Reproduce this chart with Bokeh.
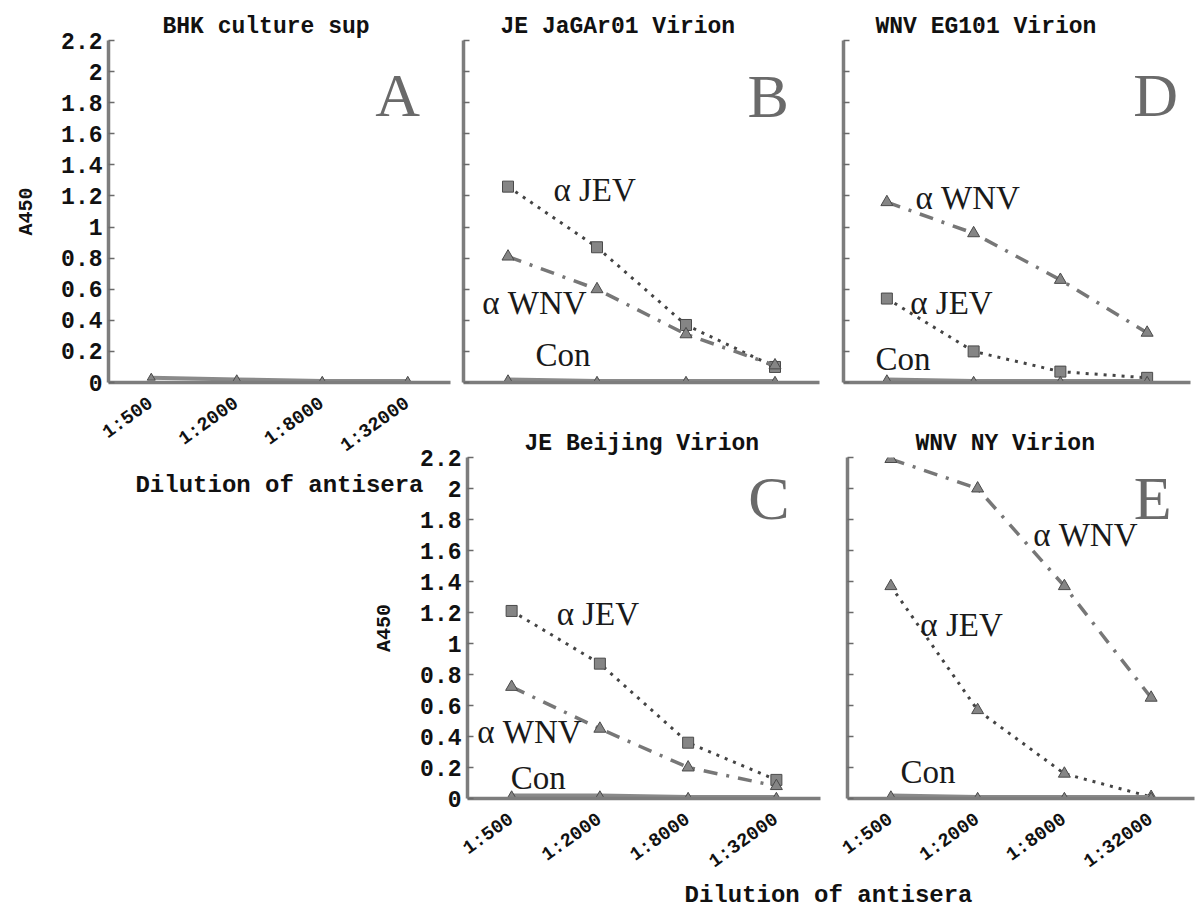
from bokeh.plotting import figure
from bokeh.layouts import column, row, Spacer
from bokeh.models import FactorRange, Range1d, FixedTicker, NumeralTickFormatter, Label
from bokeh.embed import file_html
from bokeh.resources import INLINE

# ---------------- data ----------------
dilutions = ["1:500", "1:2000", "1:8000", "1:32000"]
y_ticks = [0, 0.2, 0.4, 0.6, 0.8, 1.0, 1.2, 1.4, 1.6, 1.8, 2.0, 2.2]

# A: BHK culture sup
A_con = [0.03, 0.02, 0.01, 0.01]
# B: JE JaGAr01 Virion
B_jev = [1.26, 0.87, 0.37, 0.10]
B_wnv = [0.81, 0.60, 0.31, 0.11]
B_con = [0.02, 0.01, 0.01, 0.01]
# D: WNV EG101 Virion
D_wnv = [1.16, 0.96, 0.66, 0.32]
D_jev = [0.54, 0.20, 0.07, 0.03]
D_con = [0.02, 0.01, 0.01, 0.01]
# C: JE Beijing Virion
C_jev = [1.21, 0.87, 0.36, 0.12]
C_wnv = [0.72, 0.45, 0.20, 0.08]
C_con = [0.02, 0.02, 0.01, 0.01]
# E: WNV NY Virion
E_wnv = [2.19, 2.00, 1.37, 0.65]
E_jev = [1.37, 0.57, 0.16, 0.01]
E_con = [0.02, 0.01, 0.01, 0.01]

MONO = "Liberation Mono"
SERIF = "Liberation Serif"
AXIS_GRAY = "#7d7d7d"
LINE_GRAY = "#777777"
MARK_FILL = "#858585"
MARK_LINE = "#4a4a4a"


def panel(w, h, ml, mr, mt, mb, title, toff, ylabels, xlabels,
          xlabel=None, ylab_standoff=20):
    p = figure(width=w, height=h,
               x_range=FactorRange(factors=dilutions), y_range=Range1d(0, 2.2),
               output_backend="svg", toolbar_location=None,
               min_border_left=ml, min_border_right=mr,
               min_border_top=mt, min_border_bottom=mb)
    p.title.text = title
    p.title.align = "left"
    p.title.offset = toff
    p.title.standoff = 2
    p.title.text_font = MONO
    p.title.text_font_size = "23px"
    p.title.text_font_style = "bold"
    p.title.text_color = "#111111"
    p.xgrid.visible = False
    p.ygrid.visible = False
    p.outline_line_color = None
    p.background_fill_alpha = 0
    p.border_fill_alpha = 0

    ya = p.yaxis[0]
    ya.ticker = FixedTicker(ticks=y_ticks)
    ya.axis_line_color = AXIS_GRAY
    ya.axis_line_width = 3.5
    ya.major_tick_in = 6
    ya.major_tick_out = 0
    ya.major_tick_line_color = "#6a6a6a"
    ya.major_tick_line_width = 1.5
    ya.minor_tick_line_color = None
    if ylabels:
        ya.formatter = NumeralTickFormatter(format="0.[0]")
        ya.major_label_text_font = MONO
        ya.major_label_text_font_size = "23px"
        ya.major_label_text_font_style = "bold"
        ya.major_label_text_color = "#111111"
        ya.major_label_standoff = 6
        ya.axis_label = "A450"
        ya.axis_label_text_font = MONO
        ya.axis_label_text_font_size = "20px"
        ya.axis_label_text_font_style = "bold"
        ya.axis_label_text_color = "#111111"
        ya.axis_label_standoff = ylab_standoff
    else:
        ya.major_label_text_color = None
        ya.major_label_text_font_size = "1px"

    xa = p.xaxis[0]
    xa.axis_line_color = AXIS_GRAY
    xa.axis_line_width = 3.5
    xa.major_tick_line_color = None
    xa.minor_tick_line_color = None
    if xlabels:
        xa.major_label_orientation = 0.62
        xa.major_label_text_font = MONO
        xa.major_label_text_font_size = "19px"
        xa.major_label_text_font_style = "bold"
        xa.major_label_text_color = "#111111"
        xa.major_label_standoff = 13
    else:
        xa.major_label_text_color = None
        xa.major_label_text_font_size = "1px"
    if xlabel:
        xa.axis_label = xlabel
        xa.axis_label_text_font = MONO
        xa.axis_label_text_font_size = "24px"
        xa.axis_label_text_font_style = "bold"
        xa.axis_label_text_color = "#111111"
        xa.axis_label_standoff = 3
    return p


def con_series(p, vals):
    p.line(dilutions, vals, line_color="#8a8a8a", line_width=4)
    p.scatter(dilutions, vals, marker="triangle", size=8,
              fill_color=MARK_FILL, line_color=MARK_LINE)


def jev_series(p, vals, marker="square"):
    p.line(dilutions, vals, line_color="#444444", line_width=3, line_dash="3 6")
    p.scatter(dilutions, vals, marker=marker, size=11 if marker == "square" else 12,
              fill_color=MARK_FILL, line_color=MARK_LINE)


def wnv_series(p, vals):
    p.line(dilutions, vals, line_color=LINE_GRAY, line_width=3.5, line_dash="14 9 3 9")
    p.scatter(dilutions, vals, marker="triangle", size=12,
              fill_color=MARK_FILL, line_color=MARK_LINE)


def letter(p, txt, x, y):
    p.add_layout(Label(x=x, y=y, text=txt, text_font=SERIF, text_font_size="62px",
                       text_color="#6a6a6a", text_align="left",
                       text_baseline="middle"))


def tag(p, txt, x, y):
    p.add_layout(Label(x=x, y=y, text=txt, text_font=SERIF, text_font_size="33px",
                       text_color="#1a1a1a", text_align="left",
                       text_baseline="middle"))


TOP_H = 512
TOP_T = 40      # top border of the upper panels
TOP_F = 342     # frame height of the upper panels

# ---------------- top row ----------------
pA = panel(455, TOP_H, 108, 5, TOP_T, TOP_H - TOP_T - TOP_F, "BHK culture sup", 54,
           True, True, xlabel="Dilution of antisera", ylab_standoff=20)
con_series(pA, A_con)
letter(pA, "A", 3.12, 1.85)

pB = panel(380, TOP_H, 8, 16, TOP_T, TOP_H - TOP_T - TOP_F, "JE JaGAr01 Virion", 37,
           False, False)
jev_series(pB, B_jev)
wnv_series(pB, B_wnv)
con_series(pB, B_con)
letter(pB, "B", 3.19, 1.84)
tag(pB, "α JEV", 1.01, 1.24)
tag(pB, "α WNV", 0.21, 0.51)
tag(pB, "Con", 0.81, 0.18)

pD = panel(360, TOP_H, 8, 5, TOP_T, TOP_H - TOP_T - TOP_F, "WNV EG101 Virion", 32,
           False, False)
wnv_series(pD, D_wnv)
jev_series(pD, D_jev)
con_series(pD, D_con)
letter(pD, "D", 3.34, 1.85)
tag(pD, "α WNV", 0.83, 1.19)
tag(pD, "α JEV", 0.77, 0.51)
tag(pD, "Con", 0.37, 0.15)

# ---------------- bottom row ----------------
BOT_TOP = 427
BOT_H = 466
pC = panel(465, BOT_H, 93, 15, 30, BOT_H - 30 - 341, "JE Beijing Virion", 57, True, True,
           ylab_standoff=21)
jev_series(pC, C_jev)
wnv_series(pC, C_wnv)
con_series(pC, C_con)
letter(pC, "C", 3.18, 1.94)
tag(pC, "α JEV", 1.01, 1.19)
tag(pC, "α WNV", 0.11, 0.43)
tag(pC, "Con", 0.49, 0.13)

pE = panel(360, BOT_H, 12, 1, 30, BOT_H - 30 - 343, "WNV NY Virion", 68, False, True)
wnv_series(pE, E_wnv)
jev_series(pE, E_jev, marker="triangle")
con_series(pE, E_con)
letter(pE, "E", 3.30, 1.94)
tag(pE, "α WNV", 2.14, 1.70)
tag(pE, "α JEV", 0.84, 1.12)
tag(pE, "Con", 0.61, 0.17)

# ---------------- shared bottom label ----------------
LAB_TOP = 881
LAB_H = 28
pL = figure(width=600, height=LAB_H, x_range=Range1d(0, 1), y_range=Range1d(0, 1),
            x_axis_type=None, y_axis_type=None, output_backend="svg",
            toolbar_location=None, min_border=0, outline_line_color=None)
pL.background_fill_alpha = 0
pL.border_fill_alpha = 0
pL.xgrid.visible = False
pL.ygrid.visible = False
pL.add_layout(Label(x=0.5, y=0.5, text="Dilution of antisera", text_font=MONO,
                    text_font_size="24px", text_font_style="bold",
                    text_color="#111111", text_align="center",
                    text_baseline="middle"))

top_row = row(pA, pB, pD)
bottom_row = row(Spacer(width=370, height=BOT_H), pC, pE,
                 margin=(BOT_TOP - TOP_H, 0, 0, 0))
label_row = row(Spacer(width=528, height=LAB_H), pL,
                margin=(LAB_TOP - (BOT_TOP + BOT_H), 0, 0, 0))
layout = column(top_row, bottom_row, label_row)

open("out.html", "w").write(file_html(layout, INLINE))
